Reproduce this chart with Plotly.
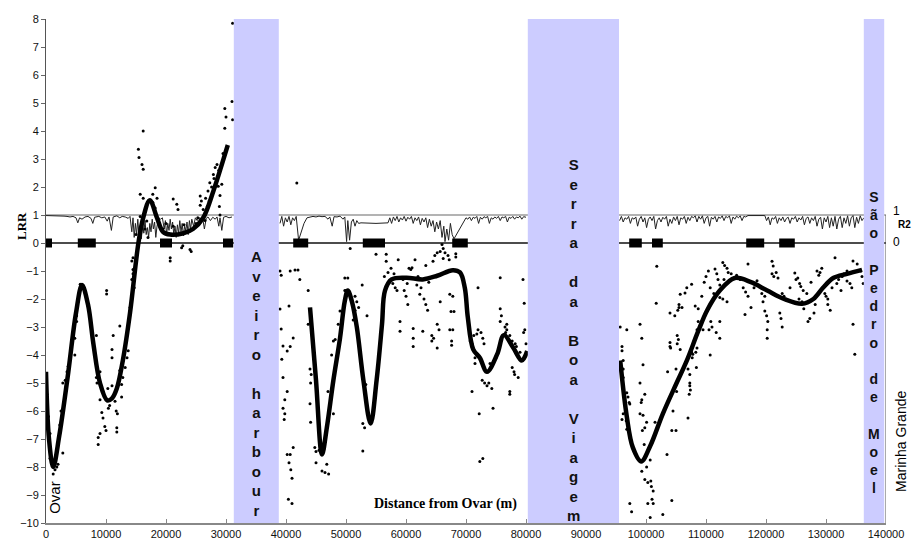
import plotly.graph_objects as go

# ---------------- data ----------------
x_ticks = [0, 10000, 20000, 30000, 40000, 50000, 60000, 70000, 80000, 90000,
           100000, 110000, 120000, 130000, 140000]
x_tick_labels = [str(v) for v in x_ticks]
y_ticks = list(range(-10, 9))

band_starts = [31300, 80300, 136300]
band_ends = [38800, 95500, 139700]
band_labels = ["Aveiro harbour", "Serra da Boa Viagem", "São Pedro de Moel"]
band_label_y = [-5.0, -3.45, -3.55]
band_font = [15, 15, 14]

block_starts = [0, 5300, 19000, 29500, 41200, 52800, 67700, 97200, 101000, 116700, 122200]
block_ends = [1000, 8300, 21000, 31200, 43700, 56500, 70300, 99300, 102800, 119700, 124800]

smooth1_x = [0, 500, 1200, 2200, 3600, 5000, 6000, 7000, 7900, 9000, 10200, 11000, 11800, 12800,
             14000, 15400, 16200, 17300, 18500, 19500, 20700, 22900, 24500, 26200, 27900, 29300, 30300]
smooth1_y = [-4.6, -7.0, -8.0, -6.9, -4.8, -2.5, -1.5, -2.2, -3.6, -5.0, -5.62, -5.55, -5.2, -4.2,
             -2.5, 0.0, 0.9, 1.53, 0.9, 0.4, 0.3, 0.35, 0.5, 0.9, 1.86, 2.8, 3.5]
smooth2_x = [44000, 45000, 46000, 46800, 47900, 49000, 49800, 50300, 51000, 51800, 52900, 54100,
             55100, 56000, 56500, 57600, 60100, 62800, 65200, 67800, 69000, 69800, 70300, 71200,
             72300, 73500, 75200, 76300, 77900, 79300, 80200]
smooth2_y = [-2.3, -4.9, -7.55, -6.6, -4.9, -3.4, -2.07, -1.7, -2.1, -3.0, -4.9, -6.45,
             -4.9, -2.9, -1.7, -1.3, -1.24, -1.3, -1.17, -0.97, -1.05, -1.6, -2.65, -3.8,
             -4.1, -4.6, -3.97, -3.29, -3.75, -4.2, -3.86]
smooth3_x = [95700, 96800, 97800, 99200, 100700, 102800, 105100, 106800, 108700, 110200, 112300,
             114800, 117500, 120200, 123000, 126000, 127900, 129500, 131200, 133500, 136000]
smooth3_y = [-4.2, -6.2, -7.3, -7.8, -7.25, -6.1, -5.0, -4.2, -3.15, -2.4, -1.7,
             -1.25, -1.4, -1.7, -2.0, -2.17, -2.0, -1.6, -1.25, -1.1, -0.96]

r2a_x = [0, 1000, 2000, 3000, 3500, 4000, 4500, 5000, 5300, 5600, 6000, 6500, 7000, 7500, 7800, 8100,
         8800, 9300, 9800, 10200, 10500, 10900, 11200, 11800, 12300, 12700, 13200, 13700, 14000, 14300,
         14500, 14700, 14900, 15100, 15300, 15500, 15700, 15900, 16100, 16300, 16500, 16700, 16900,
         17100, 17300, 17500, 17700, 17900, 18100, 18300, 18500, 18800, 19100, 19400, 19700, 19900,
         20100, 20300, 20500, 20700, 20900, 21100, 21300, 21500, 21700, 21900, 22100, 22300, 22500,
         22700, 22900, 23100, 23300, 23500, 23700, 23900, 24100, 24300, 24600, 24900, 25200, 25500,
         25800, 26100, 26400, 26700, 27000, 27400, 27800, 28200, 28500, 28800, 29000, 29300, 29600,
         30000, 30500, 31000]
r2a_y = [0.98, 0.98, 0.97, 0.96, 0.95, 0.93, 0.95, 0.9, 0.72, 0.9, 0.85, 0.93, 0.95, 0.88, 0.7, 0.92,
         0.95, 0.9, 0.93, 0.78, 0.93, 0.45, 0.93, 0.97, 0.9, 0.95, 0.93, 0.88, 0.95, 0.4,
         0.9, 0.2, 0.7, 0.3, 0.85, 0.25, 0.6, 0.15, 0.75, 0.35, 0.8, 0.3, 0.55,
         0.2, 0.7, 0.4, 0.85, 0.5, 0.75, 0.2, 0.6, 0.9, 0.85, 0.9, 0.5, 0.8,
         0.3, 0.7, 0.45, 0.85, 0.5, 0.75, 0.3, 0.6, 0.2, 0.65, 0.35, 0.8, 0.4,
         0.7, 0.25, 0.6, 0.45, 0.75, 0.3, 0.8, 0.5, 0.85, 0.6, 0.9, 0.8, 0.92,
         0.7, 0.9, 0.5, 0.88, 0.93, 0.8, 0.92, 0.85, 0.93, 0.6, 0.9, 0.45, 0.92,
         0.95, 0.9, 0.93]
r2b_x = [39000, 39300, 39600, 39900, 40200, 40500, 40800, 41100, 41400, 41700, 42100, 42500, 43000,
         43500, 44000, 44500, 45000, 45500, 46000, 46500, 47000, 47300, 47700, 48000, 48500, 49000,
         49500, 49800, 50100, 50300, 50600, 50900, 51200, 51500, 51800, 52100, 52500, 55000, 57000,
         57300, 57600, 57900, 58200, 58500, 58800, 59100, 59400, 59700, 60000, 60300, 60600, 60900,
         61200, 61500, 61800, 62100, 62400, 62700, 63000, 63300, 63600, 63900, 64200, 64500, 64800,
         65100, 65400, 65700, 66000, 66300, 66500, 66800, 67100, 67400, 67700, 68000, 70000, 70300,
         70600, 70900, 71200, 71500, 71800, 72100, 72400, 72700, 73000, 73300, 73600, 73900, 74200,
         74500, 74800, 75100, 75400, 75700, 76000, 76300, 76600, 76900, 77200, 77500, 77800, 78100,
         78400, 78700, 79000, 79300, 79600, 80000]
r2b_y = [0.7, 0.95, 0.6, 0.9, 0.75, 0.95, 0.65, 0.9, 0.8, 0.95, 0.1, 0.4, 0.7,
         0.9, 0.93, 0.95, 0.93, 0.96, 0.94, 0.95, 0.85, 0.93, 0.6, 0.94, 0.93, 0.96,
         0.85, 0.93, 0.05, 0.8, 0.1, 0.75, 0.85, 0.6, 0.8, 0.7, 0.72, 0.7, 0.72,
         0.9, 0.7, 0.93, 0.8, 0.95, 0.75, 0.9, 0.82, 0.95, 0.78, 0.92, 0.85, 0.95,
         0.7, 0.9, 0.8, 0.93, 0.65, 0.88, 0.75, 0.9, 0.55, 0.85, 0.6, 0.8, 0.4,
         0.75, 0.5, 0.8, 0.2, 0.6, 0.05, 0.5, 0.1, 0.7, 0.3, 0.15, 0.9, 0.85,
         0.93, 0.8, 0.92, 0.88, 0.95, 0.7, 0.92, 0.85, 0.94, 0.9, 0.95, 0.7, 0.9,
         0.85, 0.93, 0.88, 0.95, 0.8, 0.93, 0.9, 0.95, 0.75, 0.92, 0.88, 0.95, 0.85,
         0.93, 0.9, 0.96, 0.85, 0.94, 0.92]
r2c_x = [95600, 95900, 96200, 96500, 96800, 97100, 97400, 97700, 98000, 98300, 98600, 98900, 99200,
         99500, 99800, 100100, 100400, 100700, 101000, 101300, 101600, 101900, 102200, 102500, 102800,
         103100, 103400, 103700, 104000, 104300, 104600, 104900, 105200, 105500, 105800, 106100, 106400,
         106700, 107000, 107300, 107600, 107900, 108200, 108500, 108800, 109100, 109400, 109700, 110000,
         110300, 110600, 110900, 111200, 111500, 111800, 112100, 112400, 112700, 113000, 113300, 113600,
         113900, 114200, 114500, 114800, 115100, 115400, 115700, 116000, 116300, 116600, 117000, 119800,
         120100, 120400, 120700, 121000, 121300, 121600, 121900, 122200, 122500, 122800, 123100, 123400,
         123700, 124000, 124300, 124600, 124900, 125200, 125500, 125800, 126100, 126400, 126700, 127000,
         127300, 127600, 127900, 128200, 128500, 128800, 129100, 129400, 129700, 130000, 130300, 130600,
         130900, 131200, 131500, 131800, 132100, 132400, 132700, 133000, 133300, 133600, 133900, 134200,
         134500, 134800, 135100, 135400, 135700, 136000, 136300]
r2c_y = [0.8, 0.95, 0.75, 0.9, 0.85, 0.95, 0.7, 0.9, 0.85, 0.93, 0.6, 0.85, 0.95,
         0.75, 0.9, 0.55, 0.85, 0.93, 0.8, 0.95, 0.5, 0.8, 0.9, 0.75, 0.92,
         0.85, 0.95, 0.6, 0.85, 0.7, 0.93, 0.8, 0.95, 0.65, 0.9, 0.85, 0.95,
         0.7, 0.92, 0.8, 0.95, 0.9, 0.97, 0.75, 0.95, 0.85, 0.97, 0.7, 0.9,
         0.95, 0.6, 0.92, 0.85, 0.95, 0.75, 0.93, 0.88, 0.97, 0.8, 0.95, 0.9,
         0.97, 0.7, 0.93, 0.85, 0.96, 0.9, 0.97, 0.8, 0.95, 0.93, 0.98, 0.98,
         0.8, 0.93, 0.65, 0.9, 0.85, 0.95, 0.7, 0.9, 0.8, 0.93, 0.75, 0.88,
         0.92, 0.7, 0.9, 0.85, 0.95, 0.75, 0.9, 0.82, 0.95, 0.65, 0.88, 0.93,
         0.7, 0.9, 0.8, 0.95, 0.6, 0.85, 0.92, 0.5, 0.9, 0.75, 0.95, 0.55,
         0.9, 0.6, 0.95, 0.5, 0.85, 0.95, 0.55, 0.9, 0.7, 0.97, 0.6, 0.9,
         0.98, 0.55, 0.92, 0.7, 0.97, 0.8, 0.9]

dots = [
    (170, -5.4), (170, -5.75), (400, -6.2), (670, -6.8), (670, -7.7), (1200, -8.25), (1800, -8.0),
    (2000, -7.9), (1500, -8.1), (2800, -7.5), (2300, -6.5), (2800, -5.0), (3500, -4.6), (4000, -4.1),
    (4300, -3.5), (4800, -4.0), (4800, -3.4), (5100, -2.8), (5100, -2.6), (5300, -2.1), (5700, -1.47),
    (6000, -1.5), (5100, -2.3), (3200, -4.9), (3700, -4.4), (2500, -6.0),
    (10100, -1.7), (10100, -1.82), (8400, -3.3), (8400, -4.8), (9000, -4.6), (9000, -5.6), (9300, -6.05),
    (9500, -6.25), (9000, -6.8), (8700, -6.95), (8700, -7.2), (9800, -6.55), (10000, -6.7), (10400, -5.9),
    (10600, -5.8), (11000, -5.1), (11000, -4.1), (11000, -3.8), (11200, -3.3), (11500, -5.65), (11700, -6.0),
    (11900, -6.1), (11800, -6.6), (11800, -6.75), (12300, -2.96), (12300, -4.55), (12600, -5.05),
    (12600, -5.5), (12800, -4.8), (13200, -4.45), (13500, -4.1), (13700, -3.85), (14000, -2.3),
    (14300, -1.3), (14500, -1.1), (14700, -1.6), (14500, -0.95), (8500, -5.0), (9500, -5.3), (10300, -5.2),
    (16200, 4.0), (15400, 3.35), (15500, 3.05), (16000, 2.8), (16200, 2.63), (15700, 1.74), (16200, 1.6),
    (17800, 1.74), (18200, 1.97), (18500, 1.6), (17800, 1.45), (18200, 1.25), (14500, -0.53),
    (14300, -0.64), (15700, 0.95), (16800, 0.79), (15000, 0.3), (16500, 0.5), (17000, 0.2), (19000, 0.6),
    (20000, 0.7), (21200, 1.57), (21800, 1.38), (22000, 1.2), (20700, -0.53), (20700, -0.64),
    (22600, -0.17), (22800, -0.1), (24000, -0.23), (24200, -0.3), (22300, 0.35), (21200, 0.6),
    (19500, 0.5), (23000, 0.65), (25700, 1.68), (25900, 1.5), (25700, 1.35), (26200, 1.2), (26500, 0.8),
    (27000, 1.86), (27300, 2.15), (27900, 2.45), (28200, 2.7), (28500, 2.8), (28700, 2.03), (29000, 1.7),
    (28900, 1.3), (29000, 1.0), (29300, 2.1), (29800, 4.1), (30000, 4.5), (29800, 4.8), (31000, 5.05),
    (31100, 7.85), (31100, 4.4), (25300, 0.9), (25000, 0.7), (26600, 1.6), (27600, 2.0), (28000, 2.3),
    (28800, 2.6), (29500, 3.2), (27200, 1.5), (26900, 1.3),
    (39000, -1.0), (39200, -1.15), (41500, -0.96), (42000, -0.96), (40700, -1.0), (42300, -1.3),
    (40500, -2.25), (39000, -2.36), (39200, -3.07), (39500, -3.68), (40200, -3.86), (40700, -3.7),
    (41200, -3.39), (39300, -4.15), (39500, -4.8), (40200, -5.3), (39800, -5.6), (39500, -5.9),
    (39800, -6.1), (39700, -6.3), (40200, -7.55), (40700, -7.55), (41200, -7.3), (40500, -7.85),
    (40800, -8.1), (41000, -8.4), (40400, -9.15), (41000, -9.3), (41800, 2.14),
    (43700, -1.7), (43700, -2.9), (44000, -4.5), (44200, -4.7), (44100, -5.0), (44000, -5.74),
    (44100, -6.4), (44800, -7.3), (45000, -7.45), (45500, -7.4), (45800, -7.3), (46000, -7.45),
    (45000, -7.85), (46800, -7.9), (46000, -8.14), (46500, -8.2), (47100, -8.25),
    (47000, -5.3), (47900, -6.1), (47600, -4.0), (47900, -3.5), (48200, -3.45), (49000, -3.38),
    (48700, -2.9), (49000, -2.43), (49600, -2.26), (49800, -1.7), (50000, -1.7), (49800, -1.25),
    (50300, -1.25), (50600, -1.8), (50800, -2.0), (51500, -1.9), (51800, -2.1), (52100, -2.3),
    (51200, -2.75), (51500, -2.4), (52700, -1.5), (53500, -2.6), (53300, -5.05), (52800, -6.45),
    (53100, -6.6), (52800, -7.43), (50700, -0.2),
    (56700, -0.4), (56700, -0.65), (57000, -1.05), (57500, -0.9), (57800, -1.45), (58200, -1.6),
    (58500, -1.7), (58700, -0.6), (59000, -2.8), (59000, -3.15), (59700, -1.7), (60000, -1.9),
    (60300, -2.2), (60500, -0.9), (60800, -0.95), (61000, -0.88), (61200, -3.05), (61200, -3.4),
    (61200, -3.7), (61500, -0.6), (61800, -1.5), (62300, -1.83), (62500, -1.6), (63000, -2.0),
    (63300, -2.2), (63600, -2.4), (62800, -3.15), (63300, -0.8), (64300, -3.3), (64300, -3.5),
    (64600, -3.4), (65200, -3.75), (65200, -2.9), (65500, -3.1), (65700, -2.1), (64500, -0.65),
    (64800, -0.45), (65200, -0.35), (65700, -0.3), (66200, -0.55), (66500, -0.35), (67000, -0.45),
    (67200, -0.6), (67300, -1.83), (67800, -1.9), (67500, -2.45), (68000, -2.45), (67300, -3.1),
    (67800, -3.1), (67600, -3.5), (67600, -3.65), (68300, -0.5), (68300, -0.38), (66000, -0.05),
    (66200, -0.2), (55000, -0.4), (59500, -1.3), (60200, -1.45), (62000, -1.2), (63800, -1.4),
    (58000, -1.1), (56400, -1.2),
    (71000, -3.6), (71300, -3.3), (71800, -3.25), (72000, -3.1), (72500, -3.2), (72800, -3.4),
    (73000, -3.6), (71500, -4.1), (71500, -4.3), (71000, -5.3), (72200, -6.1), (72700, -4.9),
    (73100, -5.0), (73500, -5.1), (73800, -5.0), (74300, -5.2), (74500, -5.9), (75700, -1.24),
    (75700, -2.35), (75900, -2.6), (75700, -2.8), (76500, -3.0), (76800, -3.1), (76600, -3.2),
    (76800, -2.9), (77300, -3.3), (77700, -3.5), (78200, -3.6), (78400, -3.7), (77700, -4.45),
    (78000, -4.6), (78100, -4.7), (77300, -5.3), (77300, -5.4), (78700, -4.8), (79600, -3.2),
    (79800, -3.1), (79500, -1.3), (79700, -2.15), (72300, -7.8), (72800, -7.7), (72000, -1.6),
    (70700, -3.5), (74000, -4.3), (75000, -4.1), (79000, -3.9), (80000, -3.6),
    (95700, -3.0), (96000, -3.7), (96000, -3.85), (96800, -3.1), (96200, -4.2), (96200, -4.5),
    (96200, -4.8), (96800, -5.35), (97000, -5.5), (97300, -5.75), (96200, -6.1), (96000, -6.3),
    (96700, -6.35), (96800, -6.65), (97200, -5.7), (97300, -9.3), (97600, -9.6),
    (99000, -2.9), (99300, -3.4), (99500, -4.35), (99000, -5.0), (99300, -5.6), (99200, -5.7),
    (99800, -5.4), (99000, -6.1), (99500, -6.15), (100100, -6.4), (99400, -6.7), (99800, -6.6),
    (101500, -6.4), (99700, -7.2), (100400, -7.4), (100700, -7.75), (99300, -8.15), (100100, -8.0),
    (99800, -8.45), (100300, -8.55), (100800, -8.5), (100900, -8.7), (101200, -8.86), (101000, -9.15),
    (100300, -9.3), (101200, -9.3), (100700, -9.8), (102800, -9.7), (104300, -9.2), (103500, -7.55),
    (104300, -6.7), (105000, -6.7), (104500, -6.0), (103600, -4.6), (105000, -4.5), (105100, -5.3),
    (104100, -3.75), (104000, -3.55), (105700, -3.8), (105500, -2.3), (106000, -2.3), (107000, -6.25),
    (107300, -5.1), (107400, -5.25), (107200, -5.4), (107600, -3.9), (107700, -4.1), (108400, -4.45),
    (108300, -3.9), (110700, -4.0), (112300, -3.4), (110800, -2.8), (112300, -2.8), (101800, -0.83),
    (101700, -2.15), (104000, -2.5), (104800, -2.6), (105300, -2.4), (105500, -2.2), (104000, -3.7),
    (105200, -3.3), (105400, -3.45), (105200, -3.6), (105700, -1.83), (106500, -1.79), (106800, -1.6),
    (107600, -1.47), (107000, -4.5), (107300, -4.7), (107300, -5.0), (108500, -3.75), (107800, -3.97),
    (108200, -2.25), (108700, -2.35), (108500, -3.1), (108700, -2.8), (109300, -1.9), (109700, -1.4),
    (110000, -1.2), (110400, -1.0), (110700, -1.6), (111300, -1.8), (109000, -2.97), (109500, -3.1),
    (110700, -2.2), (111000, -3.0), (111700, -3.2), (110500, -3.1), (111500, -0.93), (111800, -1.1),
    (112000, -1.3), (112300, -1.5), (112800, -0.7), (113100, -0.8), (113500, -0.9), (112300, -1.95),
    (112800, -2.0), (113500, -2.1), (113700, -1.05), (114200, -1.1), (114600, -1.25), (115100, -1.15),
    (115700, -1.3), (116200, -1.6), (116600, -1.75), (117000, -1.9), (116500, -2.55), (117000, -0.75),
    (119300, -1.8), (119500, -2.1), (119800, -1.9), (119800, -2.43), (120100, -2.6), (120300, -2.8),
    (120200, -3.4), (120200, -3.1), (121000, -1.1), (121300, -1.2), (121700, -1.05), (122000, -1.25),
    (122300, -2.5), (122500, -2.7), (122700, -3.0), (122700, -1.8), (123000, -1.9), (123300, -2.0),
    (124800, -1.07), (125000, -1.3), (125300, -1.25), (125600, -1.45), (125800, -1.55), (126200, -1.7),
    (125500, -2.0), (126000, -2.1), (126300, -2.35), (127000, -2.8), (127300, -2.7), (128000, -2.5),
    (128200, -2.2), (128500, -1.0), (128800, -1.15), (129000, -1.05), (129300, -0.9), (129800, -1.8),
    (130000, -1.9), (130300, -2.0), (130300, -2.2), (130700, -2.4), (131500, -0.53), (131800, -1.45),
    (132100, -1.3), (132700, -1.2), (133000, -1.1), (133500, -1.0), (133500, -1.36), (134000, -1.45),
    (134300, -1.6), (134500, -0.64), (135200, -0.75), (134800, -3.97), (134500, -2.9), (135800, -1.0),
    (136000, -1.2), (136200, -1.45), (121000, -0.65), (121200, -0.82), (113000, -1.3), (118000, -1.6),
    (118500, -1.35), (124000, -1.6), (131000, -1.6), (132500, -1.7), (117500, -2.3), (127500, -1.4),
    (126800, -1.8),
]
dots_x = [d[0] for d in dots]
dots_y = [d[1] for d in dots]

# ---------------- figure ----------------
fig = go.Figure()

fig.add_trace(go.Scatter(x=[0, 140000], y=[1, 1], mode="lines",
                         line=dict(color="#9a9a9a", width=1.5), hoverinfo="skip", showlegend=False))

r2_x = r2a_x + [None] + r2b_x + [None] + r2c_x
r2_y = r2a_y + [None] + r2b_y + [None] + r2c_y
fig.add_trace(go.Scatter(x=r2_x, y=r2_y, mode="lines", connectgaps=False,
                         line=dict(color="#222222", width=1), showlegend=False))

fig.add_trace(go.Scatter(x=[0, 140000], y=[0, 0], mode="lines",
                         line=dict(color="#111111", width=1.5), hoverinfo="skip", showlegend=False))

bx, by = [], []
for s, e in zip(block_starts, block_ends):
    bx += [s, e, None]
    by += [0, 0, None]
fig.add_trace(go.Scatter(x=bx, y=by, mode="lines", connectgaps=False,
                         line=dict(color="#000000", width=9), showlegend=False))

fig.add_trace(go.Scatter(x=dots_x, y=dots_y, mode="markers",
                         marker=dict(color="#000000", size=3), showlegend=False))

for sx, sy in [(smooth1_x, smooth1_y), (smooth2_x, smooth2_y), (smooth3_x, smooth3_y)]:
    fig.add_trace(go.Scatter(x=sx, y=sy, mode="lines", line=dict(color="#000000", width=4.5, shape="spline"),
                             showlegend=False))

shapes = []
for s, e in zip(band_starts, band_ends):
    shapes.append(dict(type="rect", xref="x", yref="y", x0=s, x1=e, y0=-10, y1=8,
                       fillcolor="#CCCCFF", line=dict(width=0), layer="above"))
shapes.append(dict(type="line", xref="x", yref="y", x0=140000, x1=140000, y0=-10, y1=1,
                   line=dict(color="#555555", width=1)))

annotations = []
for s, e, lab, ly, fs in zip(band_starts, band_ends, band_labels, band_label_y, band_font):
    txt = "<br>".join(("\u00a0" if c == " " else c) for c in lab)
    annotations.append(dict(x=(s + e) / 2, y=ly, xref="x", yref="y", text="<b>" + txt + "</b>",
                            showarrow=False, font=dict(family="Liberation Sans", size=fs, color="#111111"),
                            xanchor="center", yanchor="middle", align="center"))

annotations += [
    dict(x=1500, y=-9.1, xref="x", yref="y", text="Ovar", textangle=-90, showarrow=False,
         font=dict(family="Liberation Sans", size=15, color="#000"), xanchor="center", yanchor="middle"),
    dict(x=1.018, y=-7.1, xref="paper", yref="y", text="Marinha Grande", textangle=-90, showarrow=False,
         font=dict(family="Liberation Sans", size=14, color="#000"), xanchor="center", yanchor="middle"),
    dict(x=66500, y=-9.32, xref="x", yref="y", text="<b>Distance from Ovar (m)</b>", showarrow=False,
         font=dict(family="Liberation Serif", size=14, color="#000"), xanchor="center", yanchor="middle"),
    dict(x=-0.030, y=0.6, xref="paper", yref="y", text="<b>LRR</b>", textangle=-90, showarrow=False,
         font=dict(family="Liberation Serif", size=13, color="#000"), xanchor="center", yanchor="middle"),
    dict(x=1.012, y=1.15, xref="paper", yref="y", text="1", showarrow=False,
         font=dict(family="Liberation Sans", size=12, color="#000"), xanchor="center", yanchor="middle"),
    dict(x=1.012, y=0.05, xref="paper", yref="y", text="0", showarrow=False,
         font=dict(family="Liberation Sans", size=12, color="#000"), xanchor="center", yanchor="middle"),
    dict(x=1.0215, y=0.65, xref="paper", yref="y", text="<b>R2</b>", showarrow=False,
         font=dict(family="Liberation Sans", size=10, color="#000"), xanchor="center", yanchor="middle"),
]

# The page body has an 8px default margin, so the figure is made 8px smaller each way
# and its margins are trimmed so the plot area lands where the reference's does.
fig.update_layout(
    width=912, height=537,
    margin=dict(l=38, r=34, t=11, b=22, autoexpand=False),
    paper_bgcolor="white", plot_bgcolor="white",
    showlegend=False,
    shapes=shapes, annotations=annotations,
    xaxis=dict(range=[0, 140000], tickvals=x_ticks, ticktext=x_tick_labels, ticks="inside", ticklen=4,
               tickcolor="#888888", showgrid=False, zeroline=False, showline=True, linecolor="#888888",
               linewidth=1.5, automargin=False,
               tickfont=dict(family="Liberation Sans", size=11, color="#111")),
    yaxis=dict(range=[-10, 8], tickvals=y_ticks, ticks="outside", ticklen=4, tickcolor="#666666",
               showgrid=False, zeroline=False, showline=True, linecolor="#555555", linewidth=1,
               automargin=False,
               tickfont=dict(family="Liberation Sans", size=11, color="#111")),
)

fig.write_html("out.html", post_script="document.body.style.overflow='hidden';")
